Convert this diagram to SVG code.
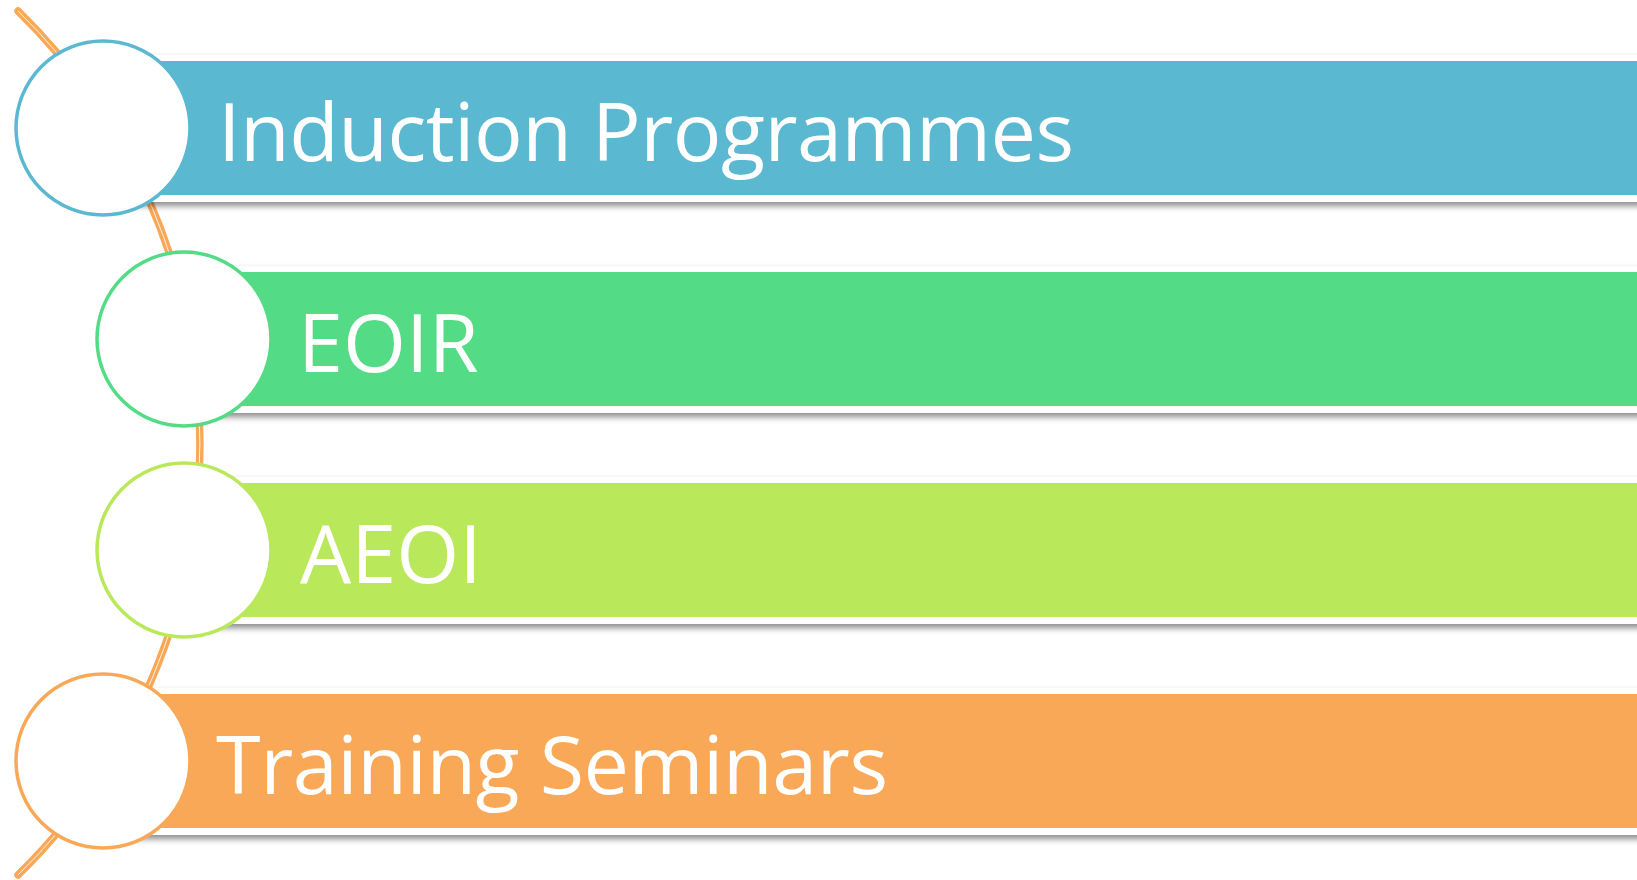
<svg xmlns="http://www.w3.org/2000/svg" width="1637" height="880" viewBox="0 0 1637 880">
  <defs>
    <filter id="sh" x="-5%" y="-30%" width="110%" height="160%">
      <feDropShadow dx="0" dy="4" stdDeviation="3" flood-color="#000" flood-opacity="0.45"/>
    </filter>
    <style>
      .frame { fill: #ffffff; filter: url(#sh); }
      .lbl { font-family: "Open Sans", "Noto Sans", sans-serif; font-size: 81px; fill: #ffffff; }
      .node circle { fill: #ffffff; stroke-width: 3.5; }
    </style>
  </defs>
  <rect width="1637" height="880" fill="#ffffff"/>

  <g id="connectors">
    <path d="M 18 11 A 604 604 0 0 1 18 875" fill="none" stroke="#f9a857" stroke-width="7.5" stroke-linecap="round"/>
    <path d="M 18 11 A 604 604 0 0 1 18 875" fill="none" stroke="#ffffff" stroke-width="1" stroke-opacity="0.85"/>
  </g>

  <g id="node-induction" class="node">
    <rect class="frame" x="103" y="55" width="1560" height="147"/>
    <rect x="103" y="61" width="1560" height="134" fill="#5bb8d1"/>
    <circle cx="103" cy="128" r="87" stroke="#5bb8d1"/>
    <text class="lbl" x="218" y="161" textLength="856" lengthAdjust="spacing">Induction Programmes</text>
  </g>

  <g id="node-eoir" class="node">
    <rect class="frame" x="184" y="266" width="1480" height="147"/>
    <rect x="184" y="272" width="1480" height="134" fill="#54db86"/>
    <circle cx="184" cy="339" r="87" stroke="#54db86"/>
    <text class="lbl" x="298" y="372">EOIR</text>
  </g>

  <g id="node-aeoi" class="node">
    <rect class="frame" x="184" y="477" width="1480" height="147"/>
    <rect x="184" y="483" width="1480" height="134" fill="#b9e85a"/>
    <circle cx="184" cy="550" r="87" stroke="#b9e85a"/>
    <text class="lbl" x="300" y="583">AEOI</text>
  </g>

  <g id="node-training" class="node">
    <rect class="frame" x="103" y="688" width="1560" height="147"/>
    <rect x="103" y="694" width="1560" height="134" fill="#f9a857"/>
    <circle cx="103" cy="761" r="87" stroke="#f9a857"/>
    <text class="lbl" x="216" y="794" textLength="672" lengthAdjust="spacing">Training Seminars</text>
  </g>
</svg>
